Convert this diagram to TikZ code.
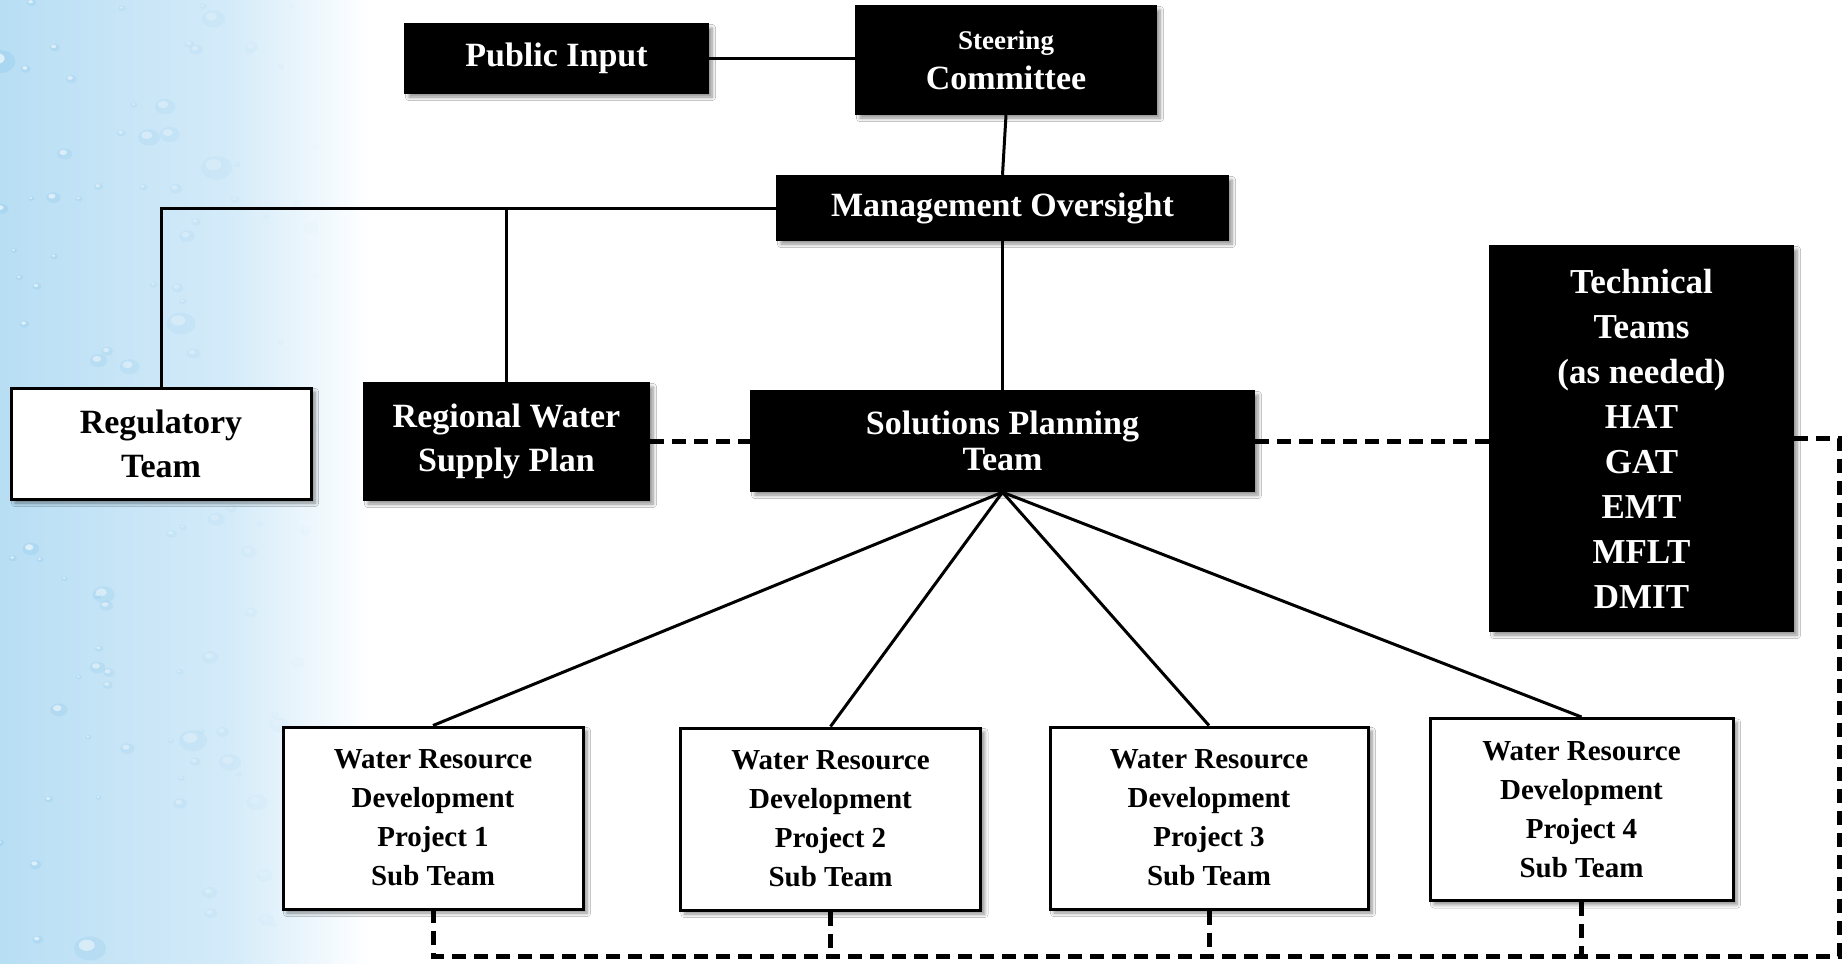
\documentclass[tikz,border=0pt]{standalone}
\usepackage{fontspec}
\setmainfont{Liberation Serif}
\usetikzlibrary{shadows.blur}
\definecolor{skyA}{RGB}{184,222,244}
\definecolor{skyB}{RGB}{212,235,249}
\definecolor{dropc}{RGB}{120,190,232}
\tikzset{
  bbox/.style={fill=black, draw=black, line width=1.2pt, text=white, align=center, font=\bfseries\fontsize{17}{20}\selectfont, inner sep=2pt,
    blur shadow={shadow xshift=2pt, shadow yshift=-2pt, shadow opacity=45, shadow blur steps=6}},
  wbox/.style={fill=white, draw=black, line width=1.5pt, text=black, align=center, font=\bfseries\fontsize{17}{20}\selectfont, inner sep=2pt,
    blur shadow={shadow xshift=2pt, shadow yshift=-2pt, shadow opacity=45, shadow blur steps=6}},
  wrd/.style={wbox, font=\bfseries\fontsize{14.5}{19.5}\selectfont, minimum width=150pt, minimum height=91pt},
  solidline/.style={line width=1.5pt, draw=black},
  dashline/.style={line width=2.5pt, draw=black, dash pattern=on 7pt off 4pt},
}
\begin{document}
\begin{tikzpicture}[x=0.5pt, y=-0.5pt]
\useasboundingbox (0,0) rectangle (1848,964);
% background
\fill[white] (0,0) rectangle (1848,964);
\shade[left color=skyA, right color=skyB, shading angle=90] (0,0) rectangle (231,964);
\shade[left color=skyB, right color=white, shading angle=90] (230,0) rectangle (370,964);
\pgfmathsetseed{11}
\foreach \i in {1,...,110} {
  \pgfmathsetmacro{\dx}{rnd*320}
  \pgfmathsetmacro{\dy}{rnd*964}
  \pgfmathsetmacro{\dr}{3+rnd*rnd*14}
  \pgfmathsetmacro{\op}{0.5*(1-\dx/340)}
  \fill[dropc, opacity=\op*0.45] (\dx,\dy) ellipse ({\dr} and {\dr*0.75});
  \fill[white, opacity=\op*1.3] (\dx-\dr*0.2,\dy-\dr*0.2) ellipse ({\dr*0.5} and {\dr*0.35});
}
% nodes
\node[bbox, minimum width=151.5pt, minimum height=34.5pt] (pub) at (556.5,58.5) {Public Input};
\node[bbox, minimum width=150pt, minimum height=54pt] (steer) at (1006,60) {{\fontsize{13.5}{16}\selectfont Steering}\\Committee};
\node[bbox, minimum width=225.5pt, minimum height=32pt] (mgmt) at (1002.5,208) {Management Oversight};
\node[wbox, minimum width=150pt, minimum height=55.5pt] (reg) at (161,443.5) {Regulatory\\[2pt]Team};
\node[bbox, minimum width=142.5pt, minimum height=58.5pt] (rwsp) at (506.5,441.5) {Regional Water\\[2pt]Supply Plan};
\node[bbox, minimum width=251.5pt, minimum height=50pt] (spt) at (1002.5,441) {Solutions Planning\\[-2pt]Team};
\node[bbox, minimum width=151.5pt, minimum height=192.5pt, font=\bfseries\fontsize{17.5}{22.5}\selectfont] (tech) at (1641.5,438.5) {Technical\\Teams\\(as needed)\\HAT\\GAT\\EMT\\MFLT\\DMIT};
\node[wrd] (w1) at (433,818) {Water Resource\\Development\\Project 1\\Sub Team};
\node[wrd] (w2) at (830.5,819) {Water Resource\\Development\\Project 2\\Sub Team};
\node[wrd, minimum width=159pt] (w3) at (1209,818) {Water Resource\\Development\\Project 3\\Sub Team};
\node[wrd, minimum width=151.5pt] (w4) at (1581.5,809.5) {Water Resource\\Development\\Project 4\\Sub Team};
% solid connectors
\draw[solidline] (pub.east) -- (pub.east -| steer.west);
\draw[solidline] (steer.south) -- (mgmt.north);
\coordinate (mgL) at (161,208);
\draw[solidline] (mgmt.west) -- (mgL) -- (reg.north);
\draw[solidline] (rwsp.north) -- (rwsp.north |- mgmt.west);
\draw[solidline] (mgmt.south) -- (spt.north);
\foreach \w in {w1,w2,w3,w4} \draw[solidline] (spt.south) -- (\w.north);
% dashed connectors
\draw[dashline] (rwsp.east) -- (rwsp.east -| spt.west);
\draw[dashline] (spt.east) -- (spt.east -| tech.west);
\coordinate (cR) at (1839,438);
\coordinate (cB) at (1839,956);
\coordinate (cL) at (433,956);
\draw[dashline] (tech.east |- cR) -- (cR) -- (cB) -- (cL) -- (w1.south);
\foreach \w in {w2,w3,w4} \draw[dashline] (\w.south) -- (\w.south |- cB);
\end{tikzpicture}
\end{document}
